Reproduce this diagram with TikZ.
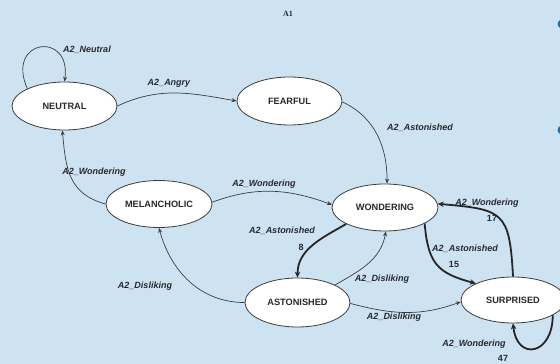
\documentclass[tikz,border=0pt]{standalone}
\usepackage{fontspec}
\setmainfont{Liberation Sans}
\newfontfamily\titlefont{Liberation Serif}
\usetikzlibrary{shapes.geometric,arrows.meta}
\definecolor{bg}{RGB}{205,227,242}
\definecolor{edgec}{RGB}{60,60,60}
\definecolor{txt}{RGB}{40,40,48}
\definecolor{dotc}{RGB}{42,106,166}
\begin{document}
\begin{tikzpicture}[x=1pt,y=1pt,
 state/.style={ellipse, draw=edgec, line width=0.8pt, fill=white, minimum width=106pt, minimum height=47pt, inner sep=0pt, font=\fontsize{9.2}{10}\selectfont\bfseries, text=txt},
 trans/.style={draw=edgec, line width=0.7pt, -{Stealth[length=5pt,width=4pt]}},
 strong/.style={draw=black!85, line width=1.8pt, -{Stealth[length=6pt,width=5.5pt]}},
 lbl/.style={font=\fontsize{9}{10}\selectfont\bfseries\itshape, text=txt, inner sep=0pt},
 num/.style={font=\fontsize{9}{10}\selectfont\bfseries, text=txt, inner sep=0pt},
 dot/.style={circle, fill=dotc, minimum size=9pt, inner sep=0pt}]
\fill[bg] (0,0) rectangle (560,364);
\useasboundingbox (0,0) rectangle (560,364);

\node[font=\titlefont\fontsize{8}{9}\selectfont\bfseries, text=txt] (title) at (288,350) {A1};
\node[dot] (dot1) at (562,340) {};
\node[dot] (dot2) at (562,234) {};

\node[state, minimum width=105pt, minimum height=48pt] (neu) at (64.5,258) {NEUTRAL};
\node[state, minimum width=105pt, minimum height=48pt] (fea) at (289.5,263) {FEARFUL};
\node[state] (mel) at (159,160) {MELANCHOLIC};
\node[state] (won) at (385,156.5) {WONDERING};
\node[state, minimum height=49pt, minimum width=105pt] (ast) at (297.5,61.5) {ASTONISHED};
\node[state, minimum width=104pt, minimum height=46pt] (sur) at (513,64) {SURPRISED};

% thin transitions
\draw[trans] (neu.155) .. controls +(-22,50) and +(7,51) .. (neu.90);
\draw[trans] (neu.0) to[out=25,in=170] (fea.180);
\draw[trans] (fea.-1) to[out=-25,in=90] (won.85);
\draw[trans] (mel.180) to[out=165,in=-85,looseness=1.15] (neu.265);
\draw[trans] (mel.2) to[out=20,in=160] (won.177);
\draw[trans] (ast.25) to[out=30,in=-100] (won.272);
\draw[trans] (ast.180) to[out=180,in=-75] (mel.270);
\draw[trans] (ast.-1) to[out=-15,in=200] (sur.182);

% strong transitions
\draw[strong] (won.203) to[out=210,in=90] (ast.90);
\draw[strong] (won.338) to[out=-85,in=165,looseness=1.3] (sur.156);
\draw[strong] (sur.90) to[out=93,in=-5,looseness=1.6] (won.4);
\draw[strong] (sur.-21) .. controls +(0,-40) and +(4,-38) .. (sur.-90);

% labels
\node[lbl] (l1) at (87,314) {A2\_Neutral};
\node[lbl] (l2) at (169,281) {A2\_Angry};
\node[lbl] (l3) at (420,236) {A2\_Astonished};
\node[lbl] (l4) at (94,192) {A2\_Wondering};
\node[lbl] (l5) at (264,180) {A2\_Wondering};
\node[lbl] (l6) at (282,133) {A2\_Astonished};
\node[num] (n6) at (301,117) {8};
\node[lbl] (l7) at (382,85) {A2\_Disliking};
\node[lbl] (l8) at (145,78) {A2\_Disliking};
\node[lbl] (l9) at (394,47) {A2\_Disliking};
\node[lbl] (l10) at (465,115) {A2\_Astonished};
\node[num] (n10) at (454,100) {15};
\node[lbl] (l11) at (487,161) {A2\_Wondering};
\node[num] (n11) at (492,146) {17};
\node[lbl] (l12) at (474,20) {A2\_Wondering};
\node[num] (n12) at (503,6) {47};
\end{tikzpicture}
\end{document}
